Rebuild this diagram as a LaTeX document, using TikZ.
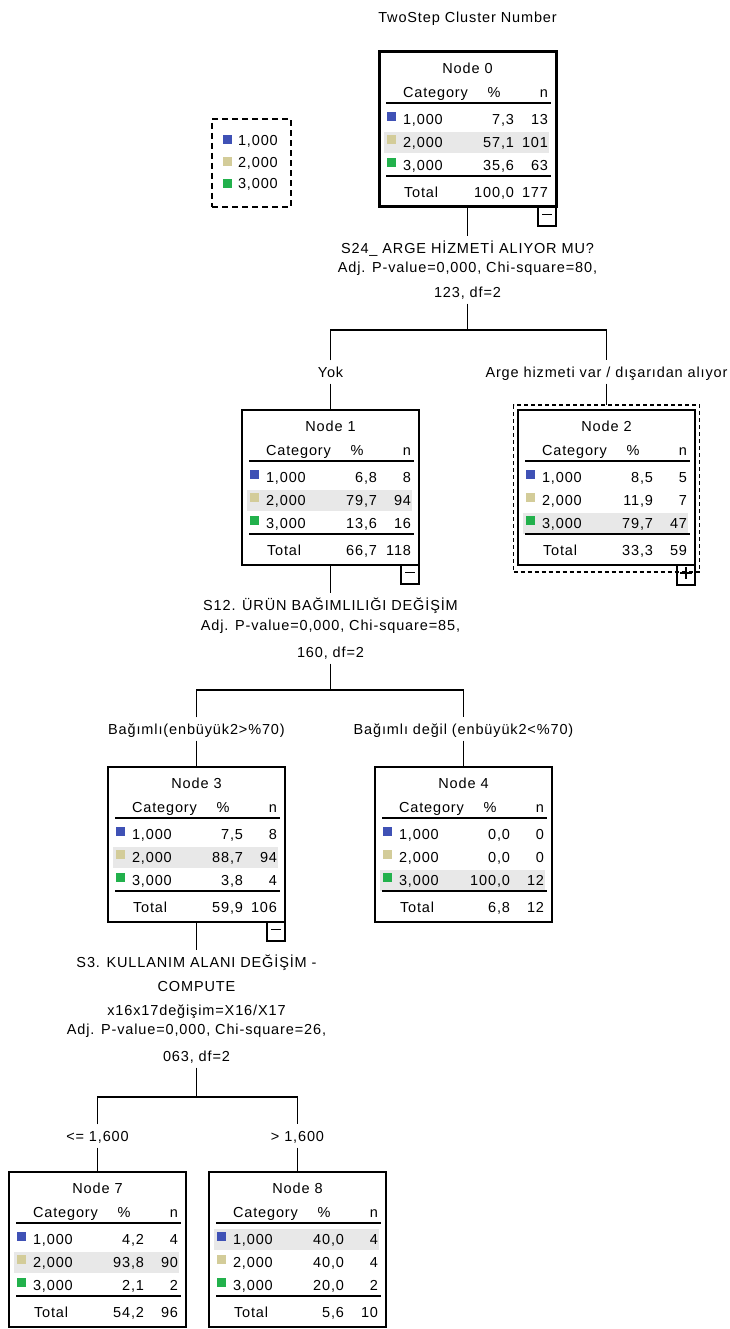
\documentclass[tikz,border=0pt]{standalone}
\usepackage{fontspec}
\setmainfont{Liberation Sans}[LetterSpace=6]
\definecolor{c1}{RGB}{63,81,181}
\definecolor{c2}{RGB}{211,204,153}
\definecolor{c3}{RGB}{34,177,76}
\definecolor{band}{RGB}{232,232,232}
\tikzset{
  every node/.style={font=\fontsize{14.5}{17}\selectfont, outer sep=0pt},
  txt/.style={inner sep=0pt, text height=10.4pt, text depth=0pt},
  lab/.style={txt, inner xsep=0pt, inner ysep=6.5pt},
  box/.style={draw, line width=1.4pt, minimum width=177pt, minimum height=155pt, anchor=north west, inner sep=0pt},
  togg/.style={draw, line width=1.3pt, minimum width=18pt, minimum height=19pt, anchor=north east, inner sep=0pt},
  sq/.style={minimum size=9pt, inner sep=0pt, anchor=north west},
  rule/.style={line width=1.5pt},
  conn/.style={line width=1.3pt},
}
\newcommand\cnode[6]{% name, L, T, number, highlighted row, extra box style
  \node[box,#6] (#1) at (#2,#3) {};
  \fill[band] ({#2+5},{#3+57+23*(#5-1)}) rectangle ++(165,21);
  \node[txt] (#1-title) at ({#2+88.5},{#3+16}) {Node #4};
  \node[txt,anchor=west] (#1-hc) at ({#2+24},{#3+40}) {Category};
  \node[txt] (#1-hp) at ({#2+115},{#3+40}) {\%};
  \node[txt,anchor=east] (#1-hn) at ({#2+169},{#3+40}) {n};
  \draw[rule] ({#2+7},{#3+51}) -- ++(165,0);
  \draw[rule] ({#2+7},{#3+124}) -- ++(165,0);
}
\newcommand\crow[6]{% name, L, T, row, pct, n
  \pgfmathsetmacro\ry{#3+67+23*(#4-1)}
  \node[sq,fill=c#4] (#1-s#4) at ({#2+8},{\ry-7}) {};
  \node[txt,anchor=west] (#1-c#4) at ({#2+24},\ry) {#4,000};
  \node[txt,anchor=east] (#1-p#4) at ({#2+135},\ry) {#5};
  \node[txt,anchor=east] (#1-n#4) at ({#2+169},\ry) {#6};
}
\newcommand\ctotal[5]{% name, L, T, pct, n
  \node[txt,anchor=west] (#1-tl) at ({#2+25},{#3+140}) {Total};
  \node[txt,anchor=east] (#1-tp) at ({#2+135},{#3+140}) {#4};
  \node[txt,anchor=east] (#1-tn) at ({#2+169},{#3+140}) {#5};
}
\newcommand\cminus[1]{%
  \node[togg] (#1-m) at (#1.south east) {};
  \draw[line width=1.2pt] ([xshift=-5pt,yshift=2pt]#1-m.center) -- ([xshift=5pt,yshift=2pt]#1-m.center);
}
\begin{document}
\begin{tikzpicture}[x=1pt,y=-1pt]
\fill[white] (0,0) rectangle (730,1329);
\useasboundingbox (0,0) rectangle (730,1329);

\node[txt] (title) at (467.5,17) {TwoStep Cluster Number};

% legend
\node[draw, line width=1.2pt, dash pattern=on 6pt off 4pt, minimum width=79pt, minimum height=88pt, anchor=north west, inner sep=0pt] (leg) at (212,119) {};
\node[sq,anchor=center,fill=c1] (leg-s1) at (227.5,140) {};
\node[sq,anchor=center,fill=c2] (leg-s2) at (227.5,162) {};
\node[sq,anchor=center,fill=c3] (leg-s3) at (227.5,183.5) {};
\node[txt,anchor=west] (leg-t1) at (238,140) {1,000};
\node[txt,anchor=west] (leg-t2) at (238,162) {2,000};
\node[txt,anchor=west] (leg-t3) at (238,183.5) {3,000};

% Node 0
\cnode{n0}{379}{52}{0}{2}{line width=3pt}
\crow{n0}{379}{52}{1}{7,3}{13}
\crow{n0}{379}{52}{2}{57,1}{101}
\crow{n0}{379}{52}{3}{35,6}{63}
\ctotal{n0}{379}{52}{100,0}{177}
\cminus{n0}

\node[lab] (s0a) at (467.5,248) {S24\_ ARGE HİZMETİ ALIYOR MU?};
\node[lab] (s0b) at (467.5,267) {Adj. P-value=0,000, Chi-square=80,};
\node[lab] (s0c) at (467.5,292) {123, df=2};
\coordinate (b0) at (467.5,330);
\node[lab] (l1) at (330.5,372) {Yok};
\node[lab] (l2) at (606.5,372) {Arge hizmeti var / dışarıdan alıyor};

% Node 1
\cnode{n1}{242}{410}{1}{2}{}
\crow{n1}{242}{410}{1}{6,8}{8}
\crow{n1}{242}{410}{2}{79,7}{94}
\crow{n1}{242}{410}{3}{13,6}{16}
\ctotal{n1}{242}{410}{66,7}{118}
\cminus{n1}

% Node 2
\node[draw, line width=1.2pt, dash pattern=on 4pt off 3pt, minimum width=186pt, minimum height=167pt, anchor=north west, inner sep=0pt] (n2o) at (513.5,405) {};
\cnode{n2}{518}{410}{2}{3}{}
\crow{n2}{518}{410}{1}{8,5}{5}
\crow{n2}{518}{410}{2}{11,9}{7}
\crow{n2}{518}{410}{3}{79,7}{47}
\ctotal{n2}{518}{410}{33,3}{59}
\node[togg,minimum height=20pt] (n2-m) at (n2.south east) {};
\draw[line width=1.2pt] ([xshift=-6pt,yshift=2pt]n2-m.center) -- ([xshift=6pt,yshift=2pt]n2-m.center);
\draw[line width=1.2pt] ([yshift=8pt]n2-m.center) -- ([yshift=-4pt]n2-m.center);

\node[lab] (s1a) at (330.5,605) {S12. ÜRÜN BAĞIMLILIĞI DEĞİŞİM};
\node[lab] (s1b) at (330.5,625) {Adj. P-value=0,000, Chi-square=85,};
\node[lab] (s1c) at (330.5,652) {160, df=2};
\coordinate (b1) at (330.5,690);
\node[lab] (l3) at (196.5,729) {Bağımlı(enbüyük2>\%70)};
\node[lab] (l4) at (463.5,729) {Bağımlı değil (enbüyük2<\%70)};

% Node 3
\cnode{n3}{108}{767}{3}{2}{}
\crow{n3}{108}{767}{1}{7,5}{8}
\crow{n3}{108}{767}{2}{88,7}{94}
\crow{n3}{108}{767}{3}{3,8}{4}
\ctotal{n3}{108}{767}{59,9}{106}
\cminus{n3}

% Node 4
\cnode{n4}{375}{767}{4}{3}{}
\crow{n4}{375}{767}{1}{0,0}{0}
\crow{n4}{375}{767}{2}{0,0}{0}
\crow{n4}{375}{767}{3}{100,0}{12}
\ctotal{n4}{375}{767}{6,8}{12}

\node[lab] (s3a) at (196.5,962) {S3. KULLANIM ALANI DEĞİŞİM -};
\node[lab] (s3b) at (196.5,986) {COMPUTE};
\node[lab] (s3c) at (196.5,1010) {x16x17değişim=X16/X17};
\node[lab] (s3d) at (196.5,1029) {Adj. P-value=0,000, Chi-square=26,};
\node[lab] (s3e) at (196.5,1056) {063, df=2};
\coordinate (b3) at (196.5,1097);
\node[lab] (l7) at (97.5,1136) {<= 1,600};
\node[lab] (l8) at (297.5,1136) {> 1,600};

% Node 7
\cnode{n7}{9}{1172}{7}{2}{}
\crow{n7}{9}{1172}{1}{4,2}{4}
\crow{n7}{9}{1172}{2}{93,8}{90}
\crow{n7}{9}{1172}{3}{2,1}{2}
\ctotal{n7}{9}{1172}{54,2}{96}

% Node 8
\cnode{n8}{209}{1172}{8}{1}{}
\crow{n8}{209}{1172}{1}{40,0}{4}
\crow{n8}{209}{1172}{2}{40,0}{4}
\crow{n8}{209}{1172}{3}{20,0}{2}
\ctotal{n8}{209}{1172}{5,6}{10}

% connectors
\draw[conn] (n0.south) -- (s0a.north);
\draw[conn] (s0c.south) -- (b0);
\draw[conn] (l1.north) |- (b0) -| (l2.north);
\draw[conn] (l1.south) -- (n1.north);
\draw[conn] (l2.south) -- (n2o.north);

\draw[conn] (n1.south) -- (s1a.north);
\draw[conn] (s1c.south) -- (b1);
\draw[conn] (l3.north) |- (b1) -| (l4.north);
\draw[conn] (l3.south) -- (n3.north);
\draw[conn] (l4.south) -- (n4.north);

\draw[conn] (n3.south) -- (s3a.north);
\draw[conn] (s3e.south) -- (b3);
\draw[conn] (l7.north) |- (b3) -| (l8.north);
\draw[conn] (l7.south) -- (n7.north);
\draw[conn] (l8.south) -- (n8.north);
\end{tikzpicture}
\end{document}
